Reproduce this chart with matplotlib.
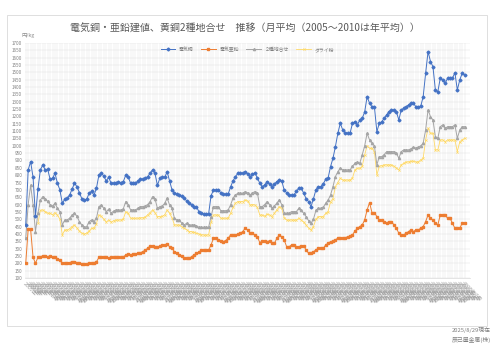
import numpy as np
import matplotlib
matplotlib.use("Agg")
from matplotlib import pyplot as plt
from matplotlib.patches import Rectangle

plt.rcParams['font.family'] = ['Noto Sans CJK JP', 'DejaVu Sans']

# categories: 2005-2010 annual, then monthly 2011/1 - 2025/7
years_annual = [2005, 2006, 2007, 2008, 2009, 2010]
first_year, last_year, last_month = 2011, 2025, 7

# 電気銅
copper = [461, 836, 892, 786, 522, 704,
          836, 870, 836, 840, 772, 779, 813, 745, 700, 609, 636, 643,
          664, 704, 745, 722, 680, 640, 630, 636, 677, 690, 664, 711,
          800, 813, 795, 760, 786, 745, 745, 750, 752, 750, 755, 800,
          790, 745, 745, 745, 760, 772, 772, 780, 790, 813, 836, 813,
          731, 779, 786, 786, 823, 760, 700, 680, 670, 665, 655, 643,
          625, 609, 600, 586, 586, 552, 545, 536, 536, 536, 660, 699,
          699, 699, 680, 670, 670, 670, 720, 760, 790, 813, 813, 813,
          824, 811, 790, 805, 817, 780, 745, 722, 733, 756, 740, 722,
          740, 756, 767, 760, 699, 680, 665, 665, 665, 690, 711, 711,
          677, 640, 620, 586, 640, 700, 722, 722, 740, 772, 780, 858,
          915, 994, 1085, 1153, 1108, 1090, 1085, 1085, 1153, 1164, 1142, 1176,
          1187, 1230, 1334, 1290, 1266, 1266, 1096, 1153, 1164, 1187, 1210, 1233,
          1244, 1244, 1233, 1176, 1244, 1255, 1266, 1278, 1289, 1289, 1266, 1266,
          1270, 1334, 1494, 1641, 1573, 1539, 1380, 1368, 1459, 1448, 1425, 1459,
          1459, 1459, 1498, 1380, 1448, 1494, 1482]

# 電気亜鉛
zinc = [200, 432, 432, 241, 200, 241,
        245, 250, 250, 245, 250, 240, 240, 232, 220, 200, 200, 205,
        205, 210, 211, 205, 200, 195, 195, 195, 200, 200, 200, 210,
        240, 245, 245, 240, 235, 240, 240, 245, 240, 240, 245, 255,
        265, 257, 262, 265, 268, 272, 279, 290, 302, 318, 316, 310,
        310, 318, 325, 325, 332, 312, 302, 279, 268, 257, 250, 234,
        234, 234, 245, 257, 268, 275, 291, 291, 291, 291, 325, 371,
        371, 360, 355, 348, 355, 371, 393, 393, 393, 400, 405, 416,
        439, 427, 405, 405, 393, 381, 340, 353, 353, 348, 353, 336,
        336, 371, 393, 381, 359, 313, 313, 325, 325, 313, 313, 318,
        318, 291, 268, 268, 279, 291, 302, 302, 302, 325, 336, 348,
        350, 360, 371, 371, 371, 375, 380, 385, 393, 420, 437, 450,
        461, 495, 563, 613, 545, 545, 518, 495, 495, 484, 473, 484,
        484, 461, 439, 405, 393, 393, 405, 416, 427, 416, 427, 427,
        439, 450, 484, 529, 507, 495, 473, 461, 529, 529, 529, 507,
        507, 473, 439, 439, 439, 473, 473]

# ２種地合せ
brass = [371, 600, 733, 600, 415, 540,
         631, 654, 640, 622, 600, 590, 609, 575, 552, 461, 495, 495,
         507, 529, 541, 520, 484, 461, 445, 450, 484, 495, 484, 507,
         586, 597, 575, 552, 568, 541, 555, 563, 563, 563, 570, 620,
         600, 563, 563, 563, 575, 586, 586, 590, 600, 620, 654, 640,
         575, 586, 590, 609, 643, 597, 575, 506, 495, 495, 473, 461,
         473, 461, 461, 461, 455, 445, 445, 445, 445, 445, 518, 586,
         586, 586, 558, 558, 558, 563, 597, 643, 665, 677, 677, 677,
         688, 680, 665, 680, 688, 680, 586, 586, 600, 620, 600, 575,
         590, 610, 631, 600, 541, 541, 541, 552, 552, 552, 575, 560,
         540, 518, 490, 473, 500, 560, 575, 575, 580, 609, 630, 665,
         722, 790, 824, 847, 836, 836, 836, 836, 860, 881, 890, 881,
         938, 1000, 1085, 1040, 1017, 1000, 870, 926, 926, 940, 960, 960,
         960, 960, 950, 915, 960, 972, 972, 972, 980, 990, 985, 990,
         1000, 1017, 1108, 1244, 1198, 1176, 1062, 1051, 1130, 1142, 1119, 1130,
         1130, 1130, 1142, 1051, 1108, 1130, 1130]

# ダライ粉
turnings = [None, None, None, None, None, 473,
            560, 563, 552, 541, 541, 530, 545, 529, 500, 393, 427, 427,
            435, 450, 461, 440, 420, 405, 400, 405, 420, 439, 439, 470,
            529, 520, 500, 480, 495, 480, 490, 495, 495, 495, 500, 552,
            540, 507, 507, 507, 507, 510, 510, 515, 530, 545, 563, 545,
            518, 518, 520, 530, 563, 540, 510, 461, 461, 461, 450, 439,
            430, 416, 416, 410, 405, 400, 395, 393, 393, 393, 480, 529,
            529, 529, 507, 507, 507, 507, 540, 580, 610, 620, 620, 620,
            631, 625, 597, 600, 597, 580, 529, 529, 520, 535, 529, 518,
            540, 565, 586, 575, 510, 495, 495, 495, 495, 495, 505, 495,
            480, 460, 440, 427, 450, 500, 518, 518, 518, 540, 552, 620,
            640, 722, 750, 779, 767, 767, 767, 767, 780, 836, 847, 847,
            860, 938, 1000, 983, 983, 960, 801, 860, 865, 870, 870, 870,
            870, 860, 850, 836, 870, 880, 890, 890, 895, 895, 890, 890,
            904, 915, 1040, 1119, 1085, 1085, 972, 972, 1040, 1040, 1028, 1040,
            1040, 1040, 1040, 960, 1028, 1040, 1051]

labels = ['%d年' % y for y in years_annual]
for y in range(first_year, last_year + 1):
    for m in range(1, 13):
        if y == last_year and m > last_month:
            break
        labels.append('%d年%d月' % (y, m))

x = np.arange(len(labels))
turnings = np.array([np.nan if v is None else v for v in turnings], dtype=float)

fig = plt.figure(figsize=(5, 3.54), dpi=100)
fig.patches.append(Rectangle((7/500, 1-326/354), 480/500, 311/354, transform=fig.transFigure,
                             fill=False, edgecolor='#D9D9D9', lw=0.6))
ax = fig.add_axes([0.05, 0.2147, 0.89, 0.664])

ax.plot(x, copper, color='#4472C4', marker='D', ms=1.5, lw=0.7, label='電気銅', zorder=5)
ax.plot(x, zinc, color='#ED7D31', marker='s', ms=1.6, lw=0.7, label='電気亜鉛', zorder=4)
ax.plot(x, brass, color='#A5A5A5', marker='^', ms=1.6, lw=0.7, label='２種地合せ', zorder=3)
ax.plot(x, turnings, color='#FFD966', marker='x', ms=1.6, mew=0.5, lw=0.6, label='ダライ粉', zorder=2)

ax.set_xlim(-0.3, len(labels) + 1.2)
ax.set_ylim(100, 1700)
ax.set_yticks(np.arange(100, 1701, 50))
ax.set_xticks(x)
ax.set_xticklabels(labels, rotation=-45, ha='left', va='top', rotation_mode='anchor',
                   fontsize=3.8, color='#A0A0A0')
ax.tick_params(axis='y', labelsize=3.3, labelcolor='#7F7F7F', length=0, pad=2)
ax.tick_params(axis='x', length=0, pad=2.5)
ax.grid(True, axis='both', color='#E3E3E3', lw=0.35)
ax.set_axisbelow(True)
for s in ['top', 'right', 'left']:
    ax.spines[s].set_visible(False)
ax.spines['bottom'].set_color('#D9D9D9')
ax.spines['bottom'].set_linewidth(0.5)

leg = ax.legend(loc='upper center', bbox_to_anchor=(0.5, 1.0), ncol=4, fontsize=3.5,
                frameon=False, handlelength=3, columnspacing=1.5, borderpad=0.2)
for t in leg.get_texts():
    t.set_color('#7F7F7F')

fig.text(245/500, 1-29/354, '電気銅・亜鉛建値、黄銅2種地合せ　推移（月平均（2005～2010は年平均））',
         ha='center', va='center', fontsize=7.2, color='#595959')
fig.text(28/500, 1-35/354, '円/kg', ha='center', va='center', fontsize=3.8, color='#8C8C8C')
fig.text(491/500, 1-330/354, '2025/8/29現在', ha='right', va='center', fontsize=4.2, color='#7F7F7F')
fig.text(491/500, 1-340/354, '辰己屋金属(株)', ha='right', va='center', fontsize=4.2, color='#7F7F7F')

plt.savefig('out.png', dpi=100, facecolor='white')
plt.close()
